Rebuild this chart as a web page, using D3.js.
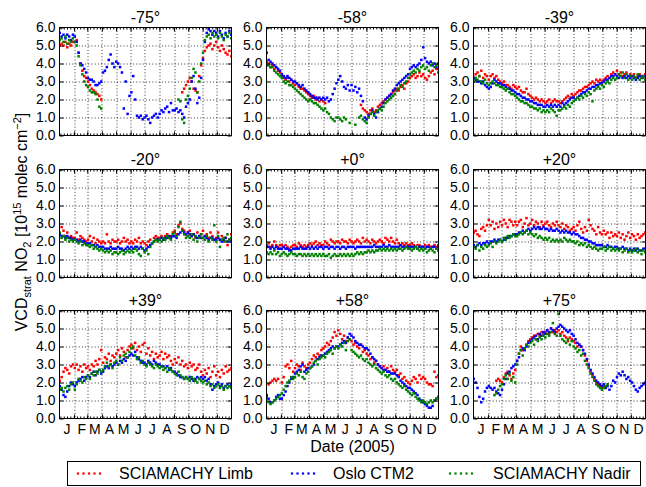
<!DOCTYPE html>
<html>
<head>
<meta charset="utf-8">
<script src="https://cdn.jsdelivr.net/npm/d3@7"></script>
<style>
  html, body { margin: 0; padding: 0; background: #fff; }
  svg { display: block; font-family: "Liberation Sans", Arial, Helvetica, sans-serif; }
</style>
</head>
<body>
<svg id="chart" width="646" height="487"></svg>
<script>
const _ = null;
// sample days (day of year 2005)
const days = [1,5,9,13,17,21,25,29,33,37,41,45,49,53,57,61,65,69,73,77,81,85,89,93,97,101,105,109,113,117,121,125,129,133,137,141,145,149,153,157,161,165,169,173,177,181,185,189,193,197,201,205,209,213,217,221,225,229,233,237,241,245,249,253,257,261,265,269,273,277,281,285,289,293,297,301,305,309,313,317,321,325,329,333,337,341,345,349,353,357,361,365];
const monthLabels = ["J","F","M","A","M","J","J","A","S","O","N","D"];
const panelTitles = ["-75°","-58°","-39°","-20°","+0°","+20°","+39°","+58°","+75°"];
const seriesNames = ["SCIAMACHY Limb","Oslo CTM2","SCIAMACHY Nadir"];
const seriesColors = ["#ff0000","#0000ff","#008000"];
const yTicks = [0,1,2,3,4,5,6];

// -75°
const limbS75 = [5.0,5.1,5.0,5.2,4.9,5.1,5.0,5.2, 5.2,5.3,4.6,4.0,3.6,3.3,3.2, 3.0,2.8,2.6,2.5,2.4,2.3,2.2,2.0, _,_,_,_,_,_,_, _,_,_,_,_,_,_,_, _,_,_,_,_,_,_, _,_,_,_,_,_,_,_, _,_,_,_,_,_,_,_, _,_,_,_,2.4,2.6,2.8, 3.0,3.2,3.0,2.6,2.5,2.4,3.3,3.9, 4.3,4.7,4.9,5.0,5.1,4.8,5.0, 5.2,4.9,4.7,5.0,4.8,4.6,4.5,4.7,4.4];
const ctmS75 = [5.7,5.5,5.6,5.4,5.6,5.5,5.3,5.6, 5.5,5.2,4.6,4.0,3.9,3.7,3.5, 3.2,3.1,3.1,3.0,2.8,2.8,2.9,3.0, 3.5,3.6,3.8,4.2,4.5,4.0,3.8, 4.1,4.0,3.8,3.5,1.5,3.0,1.2,2.2, 2.4,3.3,2.0,1.1,1.0,1.1,0.9, 1.0,1.1,0.9,0.7,1.0,1.1,1.2,1.0, 1.2,1.4,1.3,1.5,1.6,1.3,1.8,1.4, 1.4,1.5,1.3,1.4,1.2,1.0,1.6, 1.8,2.0,3.0,3.3,2.6,1.8,2.1,3.2, 4.2,5.2,5.7,5.9,5.8,5.6,5.8, 5.7,5.5,5.8,5.6,5.4,5.7,5.5,5.8,5.6];
const nadirS75 = [5.3,5.4,5.2,5.5,5.1,5.3,5.2,5.4, 5.2,5.0,4.4,3.9,3.4,3.0,2.8, 2.7,2.5,2.4,2.4,2.3,2.0,1.6,1.5, _,_,_,_,_,_,_, _,_,_,_,_,_,_,_, _,_,_,_,_,_,_, _,_,_,_,_,_,_,_, _,_,_,_,_,_,_,_, _,_,2.0,1.9,0.9,0.7,2.0, 2.2,2.6,3.2,3.7,3.5,2.4,3.0,4.0, 4.6,5.3,5.5,5.6,5.4,5.7,5.5, 5.6,5.4,5.7,5.5,5.3,5.6,5.5,5.7,5.4];

// -58°
const limbS58 = [3.9,4.0,3.8,3.9,3.7,3.8,3.6,3.5, 3.3,3.2,3.1,3.2,3.0,3.1,2.9, 2.8,2.9,2.7,2.6,2.6,2.5,2.4,2.3, 2.2,2.1,2.2,2.0,2.1,1.9,2.0, 1.9,1.8,_,_,_,_,_,_, _,_,_,_,_,_,_, _,_,_,_,_,1.7,1.5,1.4, 1.3,1.2,1.4,1.5,1.3,1.4,1.6,1.7, 1.8,1.9,2.0,2.1,2.2,2.3,2.4, 2.5,2.6,2.5,2.7,2.8,2.6,2.9,3.0, 3.2,3.3,3.4,3.2,3.3,3.5,3.3, 3.4,3.2,3.1,3.3,3.5,3.6,3.4,3.7,3.5];
const ctmS58 = [4.6,4.2,4.1,4.0,3.9,3.8,3.7,3.6, 3.4,3.3,3.2,3.3,3.2,3.1,3.0, 3.0,2.9,2.8,2.7,2.8,2.6,2.5,2.4, 2.3,2.2,2.1,2.1,2.0,2.1,2.0, 2.1,2.0,2.1,1.9,2.0,2.3,2.6,2.9, 3.1,3.3,3.0,2.7,2.6,2.8,2.5, 2.8,2.5,2.7,2.4,2.6,2.2,1.9,1.0, 0.9,1.1,1.2,1.4,1.2,1.0,1.3,1.5, 1.6,1.8,2.0,2.1,2.2,2.3,2.5, 2.6,2.8,2.9,3.0,3.1,3.2,3.3,3.4, 3.7,3.8,3.9,3.8,3.9,4.0,4.2, 4.9,4.3,4.1,4.0,4.1,3.9,4.0,3.8,4.0];
const nadirS58 = [4.1,3.9,3.8,3.8,3.6,3.5,3.4,3.3, 3.2,3.0,2.9,3.0,2.8,2.8,2.7, 2.6,2.5,2.4,2.3,2.2,2.1,2.0,1.9, 2.0,1.9,1.8,1.8,1.7,1.6,1.5, 1.4,1.5,1.3,1.2,1.0,0.9,0.8,1.0, 1.0,0.9,0.8,1.0,0.9,_,0.7, _,_,0.6,_,1.0,1.1,0.9,0.8, 0.7,1.0,1.2,1.3,1.1,1.3,1.4,1.5, 1.4,1.6,1.8,1.9,2.0,2.1,2.2, 2.3,2.5,2.6,2.8,2.7,2.9,3.0,3.2, 3.4,3.5,3.6,3.5,3.7,3.6,3.8, 3.9,3.7,3.8,3.6,3.9,4.0,3.8,3.9,3.7];

// -39°
const limbS39 = [3.2,3.4,3.5,3.3,3.6,3.2,3.4,3.3, 3.1,3.3,3.4,3.2,3.3,3.1,3.0, 2.9,3.0,2.8,2.8,2.7,2.6,2.8,2.7, 2.6,2.7,2.5,2.4,2.4,2.6,2.3, 2.2,2.1,2.0,2.1,2.0,1.9,2.0,1.9, 1.8,1.9,2.0,1.8,1.9,2.0,1.9, 1.9,1.8,1.9,2.0,2.1,2.2,2.1,2.3, 2.2,2.3,2.4,2.5,2.5,2.6,2.7,2.7, 2.8,2.9,3.0,2.9,3.1,3.0,3.1, 3.0,3.1,3.2,3.3,3.2,3.4,3.5,3.4, 3.6,3.4,3.5,3.3,3.4,3.5,3.3, 3.4,3.3,3.4,3.2,3.3,3.4,3.3,3.2,3.4];
const ctmS39 = [3.2,3.1,3.0,3.0,2.9,3.0,2.8,2.7, 2.6,2.7,2.9,3.1,3.0,2.9,2.9, 2.8,2.8,2.7,2.6,2.6,2.5,2.5,2.4, 2.3,2.3,2.2,2.1,2.1,2.0,2.0, 1.9,1.9,1.8,1.8,1.7,1.7,1.7,1.6, 1.6,1.7,1.6,1.7,1.6,1.7,1.6, 1.7,1.6,1.8,1.7,1.8,1.9,2.0,2.1, 2.1,2.0,2.1,2.2,2.3,2.4,2.4,2.5, 2.6,2.6,2.7,2.7,2.8,2.8,2.9, 2.9,3.0,3.1,3.1,3.2,3.3,3.3,3.4, 3.3,3.2,3.3,3.2,3.3,3.2,3.3, 3.2,3.3,3.2,3.1,3.2,3.3,3.2,3.3,3.3];
const nadirS39 = [3.0,3.2,3.1,3.3,3.0,2.9,3.1,2.9, 2.8,2.9,3.0,2.9,2.8,2.8,2.7, 2.7,2.6,2.5,2.6,2.4,2.3,2.3,2.2, 2.1,2.0,1.9,1.9,1.8,1.8,1.7, 1.6,1.6,1.5,1.5,1.4,1.5,1.3,1.4, 1.3,1.4,1.3,1.5,1.4,1.3,1.1, 1.4,1.4,1.5,1.6,1.5,1.7,1.6,1.8, 1.9,2.0,2.1,2.0,2.2,2.1,2.3,2.2, 2.4,2.3,1.9,2.5,2.6,2.7,2.6, 2.8,2.7,2.9,3.0,2.9,3.1,3.2,3.1, 3.2,3.4,3.3,3.5,3.2,3.4,3.1, 3.3,3.1,3.3,3.2,3.4,3.1,3.2,3.3,3.1];

// -20°
const limbS20 = [2.4,2.8,2.6,2.3,2.5,2.2,2.3,2.2, 2.2,2.5,2.1,2.3,2.2,2.1,2.0, 2.1,2.3,2.0,2.2,1.9,2.1,2.0,1.9, 2.0,1.9,2.4,2.0,1.9,2.1,2.0, 2.0,2.1,1.9,2.0,2.2,2.0,2.1,1.9, 2.0,1.9,2.1,2.0,2.2,1.9,2.0, 1.9,1.8,2.0,2.1,1.9,2.2,2.3,2.2, 2.2,2.3,2.1,2.3,2.4,2.2,2.3,2.5, 2.6,2.4,2.9,3.0,2.7,2.6,2.4, 2.5,2.6,2.3,2.4,2.2,2.5,2.3,2.4, 2.6,2.3,2.4,2.2,2.5,2.3,2.1, 2.2,2.5,2.1,2.3,2.0,2.2,1.8,2.1,2.4];
const ctmS20 = [2.4,2.3,2.3,2.2,2.3,2.2,2.2,2.1, 2.1,2.1,2.0,2.1,2.0,2.0,1.9, 1.9,1.9,1.8,1.8,1.7,1.8,1.7,1.7, 1.7,1.6,1.6,1.6,1.7,1.6,1.6, 1.6,1.7,1.6,1.6,1.5,1.6,1.7,1.6, 1.7,1.6,1.7,1.7,1.6,1.7,1.6, 1.5,1.6,1.7,1.8,1.9,2.0,2.1,2.1, 2.1,2.2,2.1,2.2,2.2,2.3,2.2,2.3, 2.3,2.2,2.4,2.5,2.6,2.5,2.4, 2.5,2.4,2.3,2.4,2.3,2.2,2.3,2.2, 2.2,2.3,2.2,2.1,2.2,2.2,2.1, 2.1,2.2,2.1,2.0,2.1,2.2,2.0,2.1,2.0];
const nadirS20 = [2.5,2.2,2.3,2.1,2.2,2.0,2.1,2.0, 2.1,2.0,1.9,2.0,1.8,1.9,1.8, 1.8,1.7,1.8,1.6,1.7,1.6,1.5,1.6, 1.5,1.4,1.5,1.4,1.5,1.3,1.4, 1.4,1.3,1.4,1.5,1.3,1.4,1.5,1.4, 1.5,1.4,1.6,1.5,1.3,1.2,1.6, 1.4,1.5,1.3,1.7,1.9,2.0,2.1,2.0, 2.1,2.0,2.2,2.1,2.3,2.2,2.1,2.4, 2.5,2.3,2.8,3.1,2.6,2.4,2.2, 2.3,2.2,2.4,2.1,2.3,2.0,2.2,2.4, 2.2,2.1,2.3,2.0,2.2,2.1,2.9, 2.0,2.3,1.7,2.1,2.2,2.0,2.4,2.1,2.2];

// +0°
const limbEq = [1.8,1.9,1.7,1.8,2.0,1.8,1.7,1.8, 1.8,1.7,1.8,1.7,1.6,1.7,1.8, 1.8,1.7,1.9,1.8,1.7,1.8,1.7,1.8, 1.9,1.8,1.9,2.0,1.8,1.9,1.8, 1.8,2.0,1.9,1.8,2.1,2.0,1.9,2.0, 2.0,1.9,2.1,2.0,2.0,1.9,2.1, 2.0,1.9,2.0,2.1,2.0,1.9,2.2,2.0, 2.1,2.0,1.9,2.1,2.0,1.9,2.0,2.1, 2.0,1.9,2.2,2.1,2.0,2.2,2.0, 1.9,2.1,1.9,1.8,1.9,1.8,1.9,1.8, 1.8,1.9,1.8,1.7,1.8,1.8,1.7, 1.7,1.8,1.7,1.8,1.7,1.7,1.8,1.7,1.8];
const ctmEq = [1.7,1.7,1.6,1.7,1.6,1.7,1.6,1.6, 1.6,1.7,1.6,1.6,1.5,1.5,1.6, 1.6,1.6,1.6,1.7,1.6,1.6,1.6,1.7, 1.6,1.7,1.6,1.7,1.6,1.7,1.7, 1.6,1.7,1.7,1.6,1.7,1.7,1.6,1.7, 1.7,1.6,1.7,1.7,1.6,1.7,1.7, 1.7,1.7,1.6,1.7,1.7,1.7,1.7,1.7, 1.7,1.7,1.7,1.7,1.8,1.7,1.7,1.7, 1.7,1.8,1.7,1.7,1.8,1.7,1.7, 1.7,1.7,1.7,1.8,1.7,1.7,1.7,1.7, 1.7,1.7,1.7,1.7,1.6,1.7,1.7, 1.7,1.6,1.7,1.7,1.6,1.7,1.7,1.6,1.7];
const nadirEq = [1.4,1.3,1.4,1.3,1.5,1.3,1.4,1.2, 1.3,1.4,1.3,1.2,1.3,1.4,1.3, 1.3,1.2,1.3,1.3,1.2,1.3,1.2,1.3, 1.2,1.3,1.2,1.3,1.2,1.3,1.2, 1.3,1.2,1.2,1.3,1.1,1.2,1.3,1.2, 1.2,1.3,1.2,1.3,1.2,1.3,1.2, 1.3,1.2,1.3,1.4,1.3,1.4,1.3,1.4, 1.4,1.5,1.4,1.5,1.4,1.5,1.5,1.6, 1.5,1.6,1.5,1.6,1.5,1.6,1.5, 1.6,1.5,1.6,1.6,1.5,1.6,1.7,1.6, 1.6,1.5,1.6,1.7,1.6,1.5,1.6, 1.5,1.6,1.4,1.5,1.6,1.5,1.4,1.6,1.5];

// +20°
const limbN20 = [2.5,2.6,2.4,2.3,2.7,2.8,2.6,2.9, 3.2,2.9,3.1,2.7,3.0,2.8,3.1, 2.9,3.2,3.0,2.8,3.2,3.1,2.9,3.1, 2.9,3.1,3.2,2.8,3.0,3.3,2.9, 3.0,3.2,2.9,3.1,3.0,2.8,3.1,2.9, 3.0,3.1,2.9,2.8,3.0,2.9,3.1, 2.9,2.8,3.0,2.7,2.9,2.8,2.6,2.7, 2.8,2.6,2.9,3.1,2.7,2.5,2.8,2.6, 3.2,2.9,2.7,2.6,2.4,2.8,2.5, 2.4,2.6,2.4,2.5,2.2,2.5,2.3,2.4, 2.3,2.5,2.2,2.4,2.1,2.3,2.5, 2.2,2.4,2.3,2.1,2.4,2.2,2.3,2.4,2.5];
const ctmN20 = [1.8,1.7,1.8,1.9,1.8,1.9,1.9,2.0, 1.9,2.0,2.0,2.1,2.0,2.1,2.1, 2.0,2.1,2.2,2.2,2.3,2.3,2.4,2.4, 2.4,2.5,2.5,2.6,2.5,2.6,2.7, 2.6,2.7,2.8,2.7,2.8,2.7,2.7,2.8, 2.7,2.7,2.6,2.7,2.6,2.6,2.7, 2.6,2.5,2.6,2.5,2.6,2.5,2.5,2.4, 2.5,2.4,2.4,2.3,2.2,2.2,2.1,2.1, 2.0,2.0,1.9,1.9,1.8,1.8,1.8, 1.8,1.7,1.7,1.8,1.7,1.7,1.6,1.7, 1.7,1.6,1.6,1.7,1.6,1.6,1.5, 1.6,1.5,1.6,1.5,1.6,1.5,1.5,1.6,1.6];
const nadirN20 = [1.7,1.6,1.8,1.5,1.7,1.6,1.8,1.7, 1.8,1.9,1.7,2.0,1.9,2.0,2.1, 2.0,2.2,2.1,2.3,2.2,2.3,2.4,2.3, 2.3,2.4,2.5,2.4,2.5,2.6,2.4, 2.5,2.4,2.3,2.4,2.2,2.3,2.2,2.1, 2.2,2.1,2.2,2.0,2.1,2.0,2.1, 2.0,2.1,2.0,2.2,2.1,2.0,2.1,2.0, 2.0,1.9,2.0,1.8,1.9,1.8,1.9,1.7, 1.8,1.7,1.6,1.7,1.6,1.5,1.6, 1.6,1.7,1.5,1.6,1.7,1.5,1.6,1.5, 1.6,1.5,1.6,1.4,1.5,1.6,1.4, 1.5,1.4,1.5,1.6,1.4,1.5,1.3,1.5,1.4];

// +39°
const limbN39 = [2.1,2.3,2.6,2.8,2.7,2.5,2.9,3.0, 2.8,3.0,2.7,2.9,2.6,3.0,2.8, 2.9,2.7,3.0,2.9,3.2,3.0,3.3,3.8, 3.1,3.4,3.3,3.6,3.2,3.5,3.4, 3.6,3.8,3.5,3.9,3.7,3.4,3.8,4.0, 4.1,3.9,4.2,3.8,4.0,3.7,4.1, 4.2,3.6,3.9,3.5,3.7,3.3,3.6,3.4, 3.5,3.7,3.3,3.6,3.4,3.5,3.2,3.0, 3.3,3.1,3.4,3.0,3.2,2.9,3.0, 2.8,3.1,2.9,3.0,2.7,2.8,3.0,2.6, 2.4,2.7,2.5,2.8,2.3,2.6,2.9, 2.4,2.6,2.3,2.7,2.5,2.9,2.6,2.7,2.8];
const ctmN39 = [1.8,1.6,1.3,1.2,1.5,1.8,2.0,1.9, 1.8,2.0,2.1,2.2,2.3,2.1,2.3, 2.4,2.3,2.5,2.6,2.4,2.6,2.7,2.5, 2.6,2.8,2.9,2.8,3.0,2.9,3.0, 3.1,3.0,3.2,3.1,3.3,3.2,3.4,3.5, 3.6,3.5,3.7,3.4,3.3,3.2,3.1, 3.1,3.0,3.2,3.1,3.0,3.2,3.1,3.0, 3.0,2.9,2.9,2.8,2.9,2.7,2.8,2.6, 2.6,2.5,2.4,2.3,2.3,2.2,2.3, 2.2,2.3,2.2,2.1,2.2,2.3,2.2,2.3, 2.2,2.3,2.1,2.2,1.9,1.6,1.8, 1.9,2.0,1.8,1.9,1.7,1.8,1.9,1.8,1.9];
const nadirN39 = [1.6,1.7,1.5,1.7,1.8,1.6,1.9,2.0, 1.6,1.9,2.2,2.1,2.0,2.3,2.2, 2.4,2.2,2.5,2.4,2.6,2.5,2.7,2.6, 2.7,2.9,3.1,2.9,3.0,2.8,3.1, 3.2,3.0,3.4,3.2,3.5,3.6,3.4,3.7, 3.9,4.0,3.5,3.3,3.4,3.1,3.2, 3.0,2.9,3.1,3.0,2.9,2.8,3.0,2.9, 2.8,2.9,2.7,2.8,2.6,2.8,2.7,2.6, 2.5,2.4,2.6,2.4,2.3,2.2,2.3, 2.2,2.1,2.3,2.2,2.1,2.0,2.2,2.1, 2.0,2.1,1.9,2.0,1.8,1.9,1.7, 1.8,1.9,1.7,1.8,1.6,1.8,1.7,1.8,1.7];

// +58°
const limbN58 = [1.2,1.9,2.0,2.1,2.2,2.1,2.2,_, 2.0,2.3,2.9,3.0,2.8,3.2,2.6, 2.8,3.0,2.9,2.7,3.1,2.9,2.8,3.0, 3.1,3.3,3.5,3.4,3.6,3.5,3.8, 3.9,4.0,4.2,4.1,4.3,4.5,4.8,4.6, 4.9,4.7,4.4,4.6,4.3,4.5,4.4, 4.3,4.1,4.2,4.0,3.9,4.1,3.7,3.8, 3.6,3.5,3.3,3.4,3.1,3.2,3.0,2.9, 2.8,2.9,2.7,2.8,2.6,2.9,2.7, 2.6,2.7,2.4,2.5,2.2,2.3,2.1,2.0, 1.9,2.1,2.3,2.2,2.0,2.4,2.2, 2.3,2.2,2.0,1.9,1.9,1.8,2.6,2.3,2.4];
const ctmN58 = [1.3,1.1,0.9,0.9,1.0,1.2,1.3,1.1, 1.1,1.3,1.5,1.8,2.0,2.2,2.3, 2.5,2.6,2.7,2.9,3.0,2.6,2.7,2.8, 2.8,2.9,3.0,3.2,3.3,3.4,3.5, 3.5,3.6,3.7,3.8,3.9,4.0,3.9,4.0, 4.0,4.1,4.2,4.3,4.2,4.5,4.7, 4.6,4.5,4.3,4.2,4.1,4.1,4.0,3.9, 3.9,3.8,3.6,3.4,3.3,3.2,3.0,2.9, 2.8,2.7,2.7,2.6,2.6,2.5,2.5, 2.5,2.4,2.3,2.1,2.0,1.9,1.8,1.7, 1.7,1.6,1.5,1.4,1.3,1.1,1.0, 0.9,0.8,0.7,0.6,0.6,0.7,1.0,1.1,1.2];
const nadirN58 = [1.1,0.9,0.8,0.9,1.0,1.1,1.2,1.3, 1.4,1.6,1.8,2.0,2.1,2.3,2.2, 2.3,2.5,2.4,2.6,2.3,2.2,2.5,2.6, 2.8,2.9,3.1,3.2,3.0,3.3,3.4, 3.5,3.4,3.6,3.7,3.8,3.6,3.9,4.0, 3.9,4.1,4.0,4.2,3.8,4.3,4.4, 3.8,3.7,3.6,3.5,3.4,3.5,3.3,3.2, 3.3,3.1,3.0,2.9,3.0,2.8,2.7,2.6, 2.5,2.6,2.4,2.3,2.4,2.2,2.1, 2.2,2.0,1.9,1.8,1.7,1.8,1.6,1.5, 1.4,1.3,1.4,1.2,1.1,1.0,0.9, 1.0,0.9,0.8,0.9,1.0,0.9,1.0,1.1,1.2];

// +75°
const limbN75 = [_,_,_,_,_,_,_,_, _,_,_,_,2.1,2.2,2.1, 2.0,2.3,2.5,2.6,2.4,2.2,2.5,2.7, 3.2,3.6,4.0,3.8,3.9,4.1,4.3, 4.4,4.5,4.6,4.4,4.7,4.6,4.8,4.7, 4.8,4.9,4.7,5.0,4.8,4.9,4.8, 4.9,4.7,4.8,4.6,4.5,4.3,4.5,4.4, 4.3,4.2,4.0,4.1,4.0,3.8,3.5,3.2, 2.9,2.6,2.4,2.2,2.0,1.9,1.8, 1.7,1.8,1.7,_,_,_,_,_, _,_,_,_,_,_,_, _,_,_,_,_,_,_,_,_];
const ctmN75 = [2.2,2.0,1.7,1.2,0.9,1.1,1.5,1.7, 1.8,1.7,1.6,1.7,1.5,1.4,1.3, 1.6,1.9,2.2,2.5,2.6,2.8,2.9,3.0, 3.2,3.4,3.8,3.9,3.8,4.0,4.2, 4.3,4.4,4.5,4.6,4.4,4.7,4.6,4.8, 4.7,4.9,4.8,5.0,4.9,4.8,5.0, 5.1,5.2,5.1,5.0,4.9,4.8,4.9,4.7, 4.6,4.4,4.2,4.1,4.0,3.8,3.6,3.3, 3.0,2.7,2.5,2.3,2.1,2.0,1.9, 1.8,1.9,1.7,1.8,1.6,1.8,2.1,2.0, 2.3,2.5,2.4,2.6,2.4,2.2,2.3, 2.1,2.0,1.8,1.6,1.5,1.7,1.8,1.9,2.0];
const nadirN75 = [_,_,_,_,_,_,_,_, _,_,_,1.3,1.4,1.6,1.8, 1.9,2.2,2.4,2.2,2.5,2.1,2.3,2.0, 3.0,3.6,3.8,3.5,3.9,4.1,4.0, 4.2,4.3,4.1,4.4,4.3,4.5,4.4,4.6, 4.5,4.7,4.6,4.8,5.3,4.7,4.6, 5.8,4.6,4.4,4.3,4.2,4.4,4.1,4.3, 4.0,3.9,3.7,3.8,3.5,3.6,3.2,3.0, 2.8,2.5,2.3,2.1,1.9,1.8,1.7, 1.6,1.7,1.8,1.9,_,_,_,_, _,_,_,_,_,_,_, _,_,_,_,_,_,_,_,_];

const limbAll = [limbS75, limbS58, limbS39, limbS20, limbEq, limbN20, limbN39, limbN58, limbN75];
const ctmAll = [ctmS75, ctmS58, ctmS39, ctmS20, ctmEq, ctmN20, ctmN39, ctmN58, ctmN75];
const nadirAll = [nadirS75, nadirS58, nadirS39, nadirS20, nadirEq, nadirN20, nadirN39, nadirN58, nadirN75];

// ---------- layout ----------
const svg = d3.select("#chart");
svg.append("rect").attr("width", 646).attr("height", 487).attr("fill", "#fff");

const colLeft = [59.5, 266.5, 473.5], colW = 172;
const rowTop = [27.5, 169.5, 310.5], rowH = 108;
const FONT = '"Liberation Sans", Arial, Helvetica, sans-serif';
const MS = 2.5; // marker size

const t0 = new Date(Date.UTC(2005, 0, 1)), t1 = new Date(Date.UTC(2006, 0, 1));
const dayDate = d => new Date(Date.UTC(2005, 0, d, 12));
const monthStarts = d3.utcMonth.range(t0, t1);
const innerMonths = monthStarts.slice(1);
const midMonths = monthStarts.map(m => new Date(Date.UTC(2005, m.getUTCMonth(), 16)));
const weeks = d3.utcMonday.range(t0, t1);

panelTitles.forEach((title, p) => {
  const r = Math.floor(p / 3), c = p % 3;
  const g = svg.append("g").attr("transform", `translate(${colLeft[c]},${rowTop[r]})`);
  const x = d3.scaleUtc().domain([t0, t1]).range([0, colW]);
  const y = d3.scaleLinear().domain([0, 6]).range([rowH, 0]);

  // grid
  const grid = g.append("g").attr("stroke", "#000").attr("stroke-width", 0.8).attr("stroke-dasharray", "1,2.2");
  grid.selectAll("line.h").data([1,2,3,4,5]).join("line")
    .attr("x1", 0).attr("x2", colW).attr("y1", d => Math.round(y(d)) + 0.5).attr("y2", d => Math.round(y(d)) + 0.5);
  grid.selectAll("line.v").data(innerMonths).join("line")
    .attr("x1", d => Math.round(x(d)) + 0.5).attr("x2", d => Math.round(x(d)) + 0.5).attr("y1", 0).attr("y2", rowH);

  // points
  const clipId = "clip" + p;
  g.append("clipPath").attr("id", clipId).append("rect").attr("width", colW).attr("height", rowH);
  const pts = g.append("g").attr("clip-path", `url(#${clipId})`);
  [limbAll[p], ctmAll[p], nadirAll[p]].forEach((vals, s) => {
    const data = days.map((d, i) => ({ d, v: vals[i] })).filter(o => o.v !== null);
    pts.append("g").attr("fill", seriesColors[s])
      .selectAll("rect").data(data).join("rect")
      .attr("x", o => x(dayDate(o.d)) - MS / 2).attr("y", o => y(o.v) - MS / 2)
      .attr("width", MS).attr("height", MS);
  });

  // axes (ticks inward)
  const styleAxis = sel => {
    sel.select(".domain").remove();
    sel.selectAll("line").attr("stroke", "#000");
    sel.selectAll("text").attr("fill", "#000").style("font-family", FONT).style("font-size", "14px");
  };
  g.append("g").call(d3.axisLeft(y).tickValues(yTicks).tickFormat(d3.format(".1f")).tickSizeInner(-4).tickSizeOuter(0).tickPadding(4)).call(styleAxis);
  g.append("g").attr("transform", `translate(${colW},0)`).call(d3.axisRight(y).tickValues(yTicks).tickFormat("").tickSizeInner(-4).tickSizeOuter(0)).call(styleAxis);
  [0, rowH].forEach(yy => {
    const mk = yy === 0 ? d3.axisTop : d3.axisBottom;
    g.append("g").attr("transform", `translate(0,${yy})`).call(mk(x).tickValues(weeks).tickFormat("").tickSizeInner(-2).tickSizeOuter(0)).call(styleAxis);
    g.append("g").attr("transform", `translate(0,${yy})`).call(mk(x).tickValues(innerMonths).tickFormat("").tickSizeInner(-4).tickSizeOuter(0)).call(styleAxis);
  });
  if (r === 2) {
    g.append("g").attr("transform", `translate(0,${rowH})`)
      .call(d3.axisBottom(x).tickValues(midMonths).tickFormat((d, i) => monthLabels[i]).tickSize(0).tickPadding(6))
      .call(styleAxis);
  }
  // frame
  g.append("rect").attr("width", colW).attr("height", rowH).attr("fill", "none").attr("stroke", "#000").attr("stroke-width", 1);
  // title
  g.append("text").attr("x", colW / 2).attr("y", -5).attr("text-anchor", "middle")
    .style("font-family", FONT).style("font-size", "16px").text(title);
});

// x label
svg.append("text").attr("x", 352.5).attr("y", 452).attr("text-anchor", "middle")
  .style("font-family", FONT).style("font-size", "16px").text("Date (2005)");

// y label
const yl = svg.append("text").attr("transform", "translate(27,222) rotate(-90)").attr("text-anchor", "middle")
  .style("font-family", FONT).style("font-size", "16px");
yl.append("tspan").text("VCD");
yl.append("tspan").attr("dy", 4).style("font-size", "11px").text("strat");
yl.append("tspan").attr("dy", -4).text(" NO");
yl.append("tspan").attr("dy", 4).style("font-size", "11px").text("2");
yl.append("tspan").attr("dy", -4).text(" [10");
yl.append("tspan").attr("dy", -6).style("font-size", "11px").text("15");
yl.append("tspan").attr("dy", 6).text(" molec cm");
yl.append("tspan").attr("dy", -6).style("font-size", "11px").text("−2");
yl.append("tspan").attr("dy", 6).text("]");

// legend
const lg = svg.append("g");
lg.append("rect").attr("x", 67.5).attr("y", 461.5).attr("width", 573).attr("height", 24)
  .attr("fill", "#fff").attr("stroke", "#000").attr("stroke-width", 1);
const legX = [78, 292, 450], legTextX = [119, 333, 493];
seriesNames.forEach((name, s) => {
  lg.append("g").attr("fill", seriesColors[s]).selectAll("rect").data([0,1,2,3,4]).join("rect")
    .attr("x", k => legX[s] + k * 5.5 - 1.1).attr("y", 473.5 - 1.1).attr("width", 2.2).attr("height", 2.2);
  lg.append("text").attr("x", legTextX[s]).attr("y", 479)
    .style("font-family", FONT).style("font-size", "16px").text(name);
});

// sanity check on data lengths
[...limbAll, ...ctmAll, ...nadirAll].forEach((a, i) => {
  if (a.length !== days.length) throw new Error("array " + i + " has length " + a.length);
});
</script>
</body>
</html>
